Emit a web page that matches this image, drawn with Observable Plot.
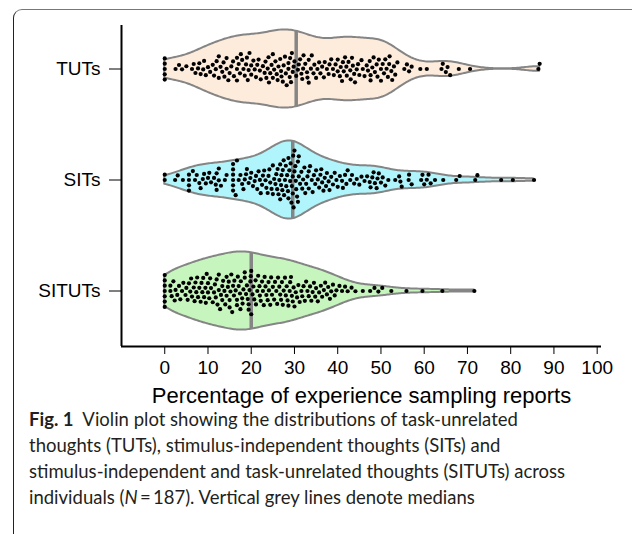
<!DOCTYPE html>
<html>
<head>
<meta charset="utf-8">
<script src="https://cdn.jsdelivr.net/npm/d3@7"></script>
<script src="https://cdn.jsdelivr.net/npm/@observablehq/plot@0.6"></script>
<style>
  html, body { margin: 0; padding: 0; background: #fff; width: 632px; height: 534px; overflow: hidden; }
  #frame { position: absolute; left: 13px; top: 9px; width: 700px; height: 600px;
           border-top: 1.5px solid #777; border-left: 1.5px solid #222; border-top-left-radius: 9px; }
  #chart { position: absolute; left: 0; top: 0; }
  #chart g[aria-label="x-axis label"] { font-size: 22px; }
  #caption { position: absolute; left: 29px; top: 406px; font-family: Lato, "Open Sans", sans-serif;
             font-size: 18.5px; line-height: 26px; color: #231f20; white-space: nowrap; }
  #caption b { font-weight: 700; }
</style>
</head>
<body>
<div id="frame"></div>
<div id="chart"></div>
<div id="caption"><b>Fig. 1</b>&nbsp; Violin plot showing the distributions of task-unrelated<br>thoughts (TUTs), stimulus-independent thoughts (SITs) and<br>stimulus-independent and task-unrelated thoughts (SITUTs) across<br>individuals (<i>N</i>&thinsp;=&thinsp;187). Vertical grey lines denote medians</div>
<script>
const categories = ["TUTs", "SITs", "SITUTs"];
const xTicks = [0, 10, 20, 30, 40, 50, 60, 70, 80, 90, 100];
const fills = ["#fdebdc", "#b0f5fb", "#c6f5be"];

const tuts = [
  0, 0, 0, 0, 0,
  2.5, 3.3, 4.0, 5.0,
  6.3, 6.7, 7.1, 7.7, 8.0, 8.3, 8.9, 9.1, 9.5, 10.0,
  10.5, 11.1, 11.4, 11.8, 12.0, 12.5, 12.5, 12.9, 13.3, 13.6, 13.8, 14.3, 14.3, 14.7, 15.0,
  15.4, 15.8, 16.0, 16.7, 16.7, 16.7, 17.1, 17.4, 17.6, 17.9, 18.2, 18.5, 18.8, 19.0, 19.2, 19.4, 19.6, 20.0,
  20.0, 20.5, 20.8, 21.1, 21.4, 21.7, 22.0, 22.2, 22.7, 23.1, 23.3, 23.5, 23.8, 24.0, 24.1, 24.4, 24.7, 25.0,
  25.0, 25.3, 25.6, 25.9, 26.1, 26.3, 26.7, 26.9, 27.0, 27.3, 27.5, 27.8, 28.0, 28.2, 28.6, 28.6, 28.9, 29.0, 29.2, 29.4, 29.6, 29.8,
  30.0, 30.4, 30.8, 31.0, 31.3, 31.6, 31.8, 32.0, 32.1, 32.5, 32.9, 33.0, 33.3, 33.3, 33.8, 34.0, 34.4, 34.6, 35.0,
  35.3, 35.7, 36.0, 36.4, 36.8, 37.0, 37.5, 37.9, 38.1, 38.5, 38.9, 39.1, 39.5, 40.0,
  40.0, 40.5, 40.7, 41.0, 41.2, 41.4, 41.7, 42.0, 42.1, 42.5, 42.9, 43.0, 43.3, 43.5, 43.8, 44.0, 44.4, 44.7, 45.0,
  45.5, 45.8, 46.2, 46.7, 47.0, 47.4, 47.6, 47.6, 48.0, 48.3, 48.6, 49.0, 49.2, 49.5, 50.0,
  50.0, 50.4, 50.7, 51.0, 51.3, 51.6, 51.9, 52.0, 52.4, 52.6, 53.0, 53.3, 53.8,
  55.4, 56.0, 56.5, 57.1, 59.1, 60.6,
  64.0, 64.3, 65.0, 65.4, 66.0, 68.0, 70.6, 86.4, 86.7
];

const sits = [
  0, 0, 2.4, 3.0, 4.2,
  5.6, 5.6, 5.6, 5.6, 6.5, 7.0, 7.4, 8.0, 8.3, 8.8, 9.1, 9.5,
  10.0, 10.3, 10.7, 11.4, 11.8, 12.0, 12.0, 12.5, 12.5, 13.0, 13.9, 14.3,
  15.8, 15.8, 15.8, 15.8, 15.8, 15.8, 16.4, 16.7, 17.1, 17.5, 17.9, 18.2, 18.5, 18.8, 19.0, 19.4, 19.8,
  20.0, 20.4, 20.8, 21.1, 21.4, 21.7, 22.0, 22.2, 22.5, 22.7, 23.0, 23.3, 23.5, 23.8, 24.0, 24.2, 24.4, 24.7,
  25.0, 25.0, 25.3, 25.6, 25.8, 26.0, 26.1, 26.3, 26.5, 26.7, 26.7, 26.9, 27.0, 27.2, 27.3, 27.5, 27.6, 27.8,
  28.0, 28.1, 28.3, 28.5, 28.6, 28.6, 28.8, 29.0, 29.1, 29.3, 29.4,
  29.6, 29.6, 29.7, 29.8, 30.0, 30.0, 30.2, 30.3, 30.4, 30.6, 30.8, 30.8, 31.0, 31.0,
  31.3, 31.6, 31.8, 32.0, 32.3, 32.5, 32.7, 33.0, 33.3, 33.3, 33.6, 34.0, 34.2, 34.5, 34.8, 35.0, 35.4, 35.7, 36.0, 36.2,
  36.4, 36.7, 37.0, 37.3, 37.5, 37.9, 38.1, 38.5, 38.9, 39.3, 39.7, 40.0,
  40.5, 41.0, 41.2, 41.7, 42.0, 42.3, 42.9, 43.3, 43.8, 44.4, 45.0, 45.5, 46.2, 46.8,
  47.4, 47.6, 48.0, 48.3, 48.6, 49.0, 49.2, 49.5, 50.0, 50.4, 51.0, 51.7,
  53.3, 54.2, 54.5, 54.8, 56.4, 56.5, 57.1, 59.3, 59.6, 60.0, 60.6, 61.0, 61.5, 62.5,
  64.4, 67.4, 68.2, 71.8, 72.3, 77.8, 80.5, 85.4
];

const situts = [
  0, 0, 0, 0, 0, 0, 0,
  1.3, 1.3, 1.6, 2.0, 2.3, 2.5, 2.9, 3.3, 3.6, 4.0, 4.3, 4.8,
  5.0, 5.3, 5.6, 5.9, 6.1, 6.3, 6.7, 6.9, 7.1, 7.3, 7.5, 7.7, 8.0, 8.3, 8.5, 8.7, 8.9, 9.1, 9.4, 9.5, 9.7, 10.0,
  10.0, 10.3, 10.5, 10.7, 11.1, 11.4, 11.6, 11.8, 12.0, 12.2, 12.5, 12.5, 12.8, 13.0, 13.3, 13.3, 13.5, 13.8, 14.0, 14.3, 14.3, 14.6, 14.8, 15.0, 15.0,
  15.2, 15.4, 15.6, 15.8, 16.0, 16.1, 16.4, 16.7, 16.7, 16.9, 17.1, 17.4, 17.5, 17.6, 17.9, 18.0, 18.2, 18.5, 18.5, 18.8, 19.0, 19.2, 19.4, 19.4, 19.6, 19.8, 19.9,
  20.0, 20.0, 20.3, 20.5, 20.7, 21.0, 21.1, 21.4, 21.6, 21.9, 22.0, 22.2, 22.5, 22.7, 22.9, 23.1, 23.3, 23.5, 23.8, 24.0, 24.1, 24.4, 24.6, 24.8, 25.0,
  25.3, 25.5, 25.8, 26.0, 26.2, 26.5, 26.7, 26.9, 27.1, 27.3, 27.5, 27.8, 28.0, 28.2, 28.4, 28.6, 28.9, 29.0, 29.2, 29.4, 29.6, 29.8, 30.0,
  30.3, 30.6, 30.9, 31.2, 31.6, 31.8, 32.1, 32.4, 32.7, 33.0, 33.3, 33.6, 33.9, 34.2, 34.5, 34.8, 35.0,
  35.4, 35.7, 36.1, 36.4, 36.8, 37.1, 37.5, 37.8, 38.2, 38.5, 38.9, 39.3, 39.7,
  40.4, 41.0, 41.7, 42.3, 43.2, 44.1, 45.8,
  47.5, 48.5, 49.4, 50.3,
  52.4, 55.9, 59.6, 64.2, 71.6
];

const series = {TUTs: tuts, SITs: sits, SITUTs: situts};
const points = categories.flatMap(c => series[c].map(v => ({cat: c, v})));

// Kernel density estimate, truncated at the data range, scaled to a peak of 1
const bandwidth = 3.2;
function kde(values) {
  const lo = d3.min(values), hi = d3.max(values), n = 240;
  const xs = d3.range(n + 1).map(i => lo + (hi - lo) * i / n);
  const dens = xs.map(x => d3.sum(values, v => Math.exp(-0.5 * ((x - v) / bandwidth) ** 2)));
  const m = d3.max(dens);
  return xs.map((x, i) => ({x, d: dens[i] / m}));
}
const violins = categories.flatMap(c => kde(series[c]).map(p => ({cat: c, ...p})));
const medians = categories.map(c => {
  const m = d3.median(series[c]);
  const k = violins.filter(p => p.cat === c);
  const i = d3.bisector(p => p.x).center(k, m);
  return {cat: c, m, d: k[i].d};
});

const yDomain = [-1.42, 1.42];
const xDomain = [-10, 101];

const chart = Plot.plot({
  width: 632,
  height: 410,
  marginLeft: 121,
  marginRight: 31,
  marginTop: 12.5,
  marginBottom: 64.5,
  style: {fontFamily: "'Liberation Sans', Arial, sans-serif", fontSize: "19px", color: "#000", background: "transparent", overflow: "visible"},
  x: {domain: xDomain, ticks: xTicks, tickFormat: d => String(d), tickSize: 8, tickPadding: 6,
      label: "Percentage of experience sampling reports", labelAnchor: "center", labelOffset: 56, labelArrow: false},
  y: {domain: yDomain, axis: null},
  fy: {domain: categories, padding: 0, axis: "left", label: null, tickSize: 12, tickPadding: 9},
  color: {domain: categories, range: fills},
  marks: [
    Plot.areaY(violins, {fy: "cat", x: "x", y1: d => -d.d, y2: d => d.d, fill: "cat", stroke: "#858585", strokeWidth: 2}),
    Plot.ruleX(medians, {fy: "cat", x: "m", y1: d => -d.d, y2: d => d.d, stroke: "#858585", strokeWidth: 3.5}),
    Plot.dot(points, Plot.dodgeY({anchor: "middle", x: "v", fy: "cat", r: 2.1, padding: 1.1, fill: "#000", stroke: "none"})),
    Plot.ruleX(categories.slice(0, 1), {fy: d => d, x: () => xDomain[0], stroke: "#000", strokeWidth: 2, insetTop: 12}),
    Plot.ruleX(categories.slice(1), {fy: d => d, x: () => xDomain[0], stroke: "#000", strokeWidth: 2}),
    Plot.ruleY(categories.slice(-1), {fy: d => d, y: () => yDomain[0], stroke: "#000", strokeWidth: 2})
  ]
});
document.getElementById("chart").appendChild(chart);
</script>
</body>
</html>
